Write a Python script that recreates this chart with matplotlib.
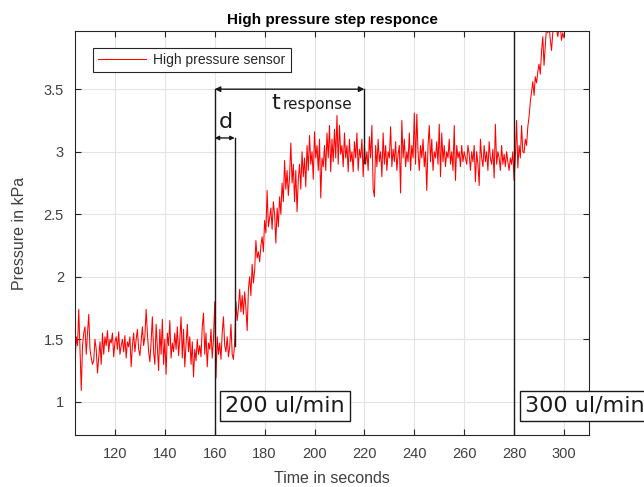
import numpy as np
import matplotlib
import matplotlib.pyplot as plt
from matplotlib.ticker import FormatStrFormatter
matplotlib.use('Agg')

# sampled sensor data, one value every 0.5 s starting at t0
t0 = 104.0
dt = 0.5
pressure = [
    1.30, 1.52, 1.45, 1.74, 1.40, 1.09, 1.45, 1.55, 1.60, 1.38,
    1.55, 1.70, 1.42, 1.35, 1.30, 1.33, 1.50, 1.42, 1.23, 1.35,
    1.48, 1.30, 1.55, 1.38, 1.52, 1.45, 1.57, 1.40, 1.50, 1.47,
    1.55, 1.36, 1.48, 1.52, 1.42, 1.56, 1.38, 1.45, 1.50, 1.40,
    1.53, 1.35, 1.48, 1.44, 1.52, 1.28, 1.45, 1.55, 1.40, 1.50,
    1.58, 1.42, 1.37, 1.49, 1.60, 1.45, 1.52, 1.74, 1.55, 1.40,
    1.32, 1.48, 1.68, 1.40, 1.30, 1.62, 1.44, 1.25, 1.58, 1.38,
    1.66, 1.30, 1.50, 1.22, 1.55, 1.45, 1.65, 1.35, 1.47, 1.40,
    1.55, 1.42, 1.60, 1.37, 1.50, 1.68, 1.35, 1.58, 1.28, 1.46,
    1.62, 1.40, 1.52, 1.30, 1.48, 1.20, 1.42, 1.33, 1.50, 1.38,
    1.45, 1.36, 1.60, 1.71, 1.38, 1.55, 1.28, 1.47, 1.42, 1.58,
    1.35, 1.50, 1.80, 1.19, 1.52, 1.38, 1.47, 1.34, 1.55, 1.68,
    1.45, 1.40, 1.52, 1.36, 1.44, 1.62, 1.38, 1.34, 1.48, 1.80,
    1.65, 1.75, 1.90, 1.72, 1.85, 1.70, 1.88, 1.75, 1.57, 1.90,
    2.00, 1.85, 2.10, 1.95, 2.05, 2.29, 2.15, 2.20, 2.12, 2.25,
    2.32, 2.20, 2.45, 2.35, 2.69, 2.40, 2.47, 2.55, 2.38, 2.60,
    2.50, 2.27, 2.55, 2.40, 2.64, 2.50, 2.75, 2.60, 2.93, 2.70,
    2.85, 2.65, 2.80, 3.07, 2.75, 2.90, 2.60, 2.85, 2.52, 2.78,
    2.90, 2.70, 3.00, 2.80, 2.95, 2.72, 3.05, 2.85, 3.13, 2.90,
    3.00, 2.78, 3.16, 2.95, 3.05, 2.85, 3.10, 2.63, 2.95, 2.88,
    3.05, 2.85, 3.15, 2.95, 3.21, 2.84, 3.10, 2.92, 3.18, 2.95,
    3.29, 2.90, 3.21, 2.98, 3.05, 2.88, 3.15, 2.95, 3.05, 2.84,
    3.10, 2.92, 3.00, 2.84, 3.08, 2.95, 3.15, 2.85, 3.02, 2.95,
    3.10, 2.80, 3.05, 2.90, 3.00, 2.85, 3.12, 2.95, 3.21, 2.70,
    2.64, 3.05, 2.88, 3.10, 2.92, 3.00, 2.80, 3.15, 2.90, 3.05,
    2.85, 3.00, 2.95, 3.20, 2.88, 3.02, 2.92, 3.08, 2.85, 2.98,
    3.05, 2.67, 3.25, 2.95, 3.10, 2.88, 3.00, 2.92, 3.15, 2.85,
    3.05, 2.95, 3.31, 2.90, 3.30, 3.00, 2.85, 3.05, 2.95, 3.10,
    2.88, 3.00, 2.69, 3.05, 3.21, 2.92, 3.10, 2.85, 3.00, 2.95,
    3.08, 2.90, 3.22, 2.80, 3.15, 2.92, 3.05, 2.88, 3.00, 2.95,
    3.10, 2.90, 3.00, 2.85, 3.21, 2.77, 3.05, 2.95, 3.00, 2.88,
    3.05, 2.92, 3.00, 2.95, 2.90, 3.05, 2.98, 2.85, 3.00, 2.92,
    3.05, 2.76, 3.00, 2.90, 2.73, 3.10, 2.95, 2.88, 3.05, 2.92,
    3.00, 2.85, 3.08, 2.95, 2.90, 3.02, 2.79, 3.22, 2.90, 3.00,
    2.95, 2.85, 3.05, 2.90, 2.98, 2.88, 3.00, 2.92, 2.85, 2.95,
    2.90, 3.00, 2.77, 2.95, 3.25, 2.87, 3.05, 2.95, 3.21, 3.00,
    2.99, 3.10, 3.05, 3.20, 3.28, 3.40, 3.48, 3.56, 3.45, 3.60,
    3.55, 3.64, 3.70, 3.62, 3.80, 3.92, 3.69, 3.85, 4.00, 3.95,
    4.02, 3.90, 3.81, 3.95, 4.05, 4.00, 3.98, 3.92, 3.99, 4.02,
    3.89, 3.95, 3.91,
]
time = t0 + dt * np.arange(len(pressure))

# markers on the time axis
t_step1 = 160
t_delay = 168
t_resp = 220
t_step2 = 280
y_resp = 3.5
y_delay = 3.11
y_delay_low = 1.45
y_resp_low = 2.91

xlim = (104, 310)
ylim = (0.735, 3.965)
xticks = [120, 140, 160, 180, 200, 220, 240, 260, 280, 300]
yticks = [1, 1.5, 2, 2.5, 3, 3.5]

ax_col = '#262626'
txt_col = '#404040'
plt.rcParams['font.family'] = ['Liberation Sans', 'DejaVu Sans']

fig = plt.figure(figsize=(6.44, 4.87), dpi=100)
ax = fig.add_axes([0.1165, 0.1068, 0.798, 0.8295])

ax.plot(time, pressure, color='#ff0000', linewidth=0.75,
        label='High pressure sensor')

ax.set_xlim(xlim)
ax.set_ylim(ylim)
ax.set_xticks(xticks)
ax.set_yticks(yticks)
ax.yaxis.set_major_formatter(FormatStrFormatter('%g'))
ax.grid(True, color='#e3e3e3', linewidth=0.8)
ax.set_axisbelow(True)
ax.tick_params(direction='in', length=4, width=0.8, top=True, right=True,
               labelsize=10.5, colors=ax_col, labelcolor=txt_col)
ax.tick_params(axis='x', pad=9)
ax.tick_params(axis='y', pad=8)
for s in ax.spines.values():
    s.set_color(ax_col)
    s.set_linewidth(0.8)

ax.set_title('High pressure step responce', fontsize=11, fontweight='bold',
             color='black', pad=5)
ax.set_xlabel('Time in seconds', fontsize=11.5, color=txt_col, labelpad=7)
ax.set_ylabel('Pressure in kPa', fontsize=11.5, color=txt_col, labelpad=12)

leg = ax.legend(loc='upper left', bbox_to_anchor=(0.035, 0.958), fontsize=10,
                fancybox=False, framealpha=1, edgecolor=ax_col,
                handlelength=3.5, handletextpad=0.5, borderpad=0.35,
                borderaxespad=0)
leg.get_frame().set_linewidth(0.8)
for t in leg.get_texts():
    t.set_color(ax_col)

# vertical marker lines
lc = '#1a1a1a'
ax.plot([t_step1, t_step1], [ylim[0], y_resp], color=lc, linewidth=1)
ax.plot([t_delay, t_delay], [y_delay_low, y_delay], color=lc, linewidth=1)
ax.plot([t_resp, t_resp], [y_resp_low, y_resp], color=lc, linewidth=1)
ax.plot([t_step2, t_step2], ylim, color=lc, linewidth=1)

# double headed arrows
ax.annotate('', xy=(t_step1, y_resp), xytext=(t_resp, y_resp),
            arrowprops=dict(arrowstyle='<|-|>', color=lc, lw=1,
                            mutation_scale=8, shrinkA=0, shrinkB=0))
ax.annotate('', xy=(t_step1, y_delay), xytext=(t_delay, y_delay),
            arrowprops=dict(arrowstyle='<|-|>', color=lc, lw=1,
                            mutation_scale=6, shrinkA=0, shrinkB=0))

ax.text(182.8, 3.345, 't', fontsize=16, family='DejaVu Sans', color=lc,
        ha='left', va='baseline')
ax.text(187.2, 3.345, 'response', fontsize=11, family='DejaVu Sans',
        color=lc, ha='left', va='baseline')
ax.text(161.5, 3.19, 'd', fontsize=16, family='DejaVu Sans', color=lc,
        ha='left', va='baseline')

box = dict(boxstyle='square,pad=0.22', facecolor='white', edgecolor=lc,
           linewidth=1)
ax.text(164.2, 0.968, '200 ul/min', fontsize=16, family='DejaVu Sans',
        color=lc, ha='left', va='center', bbox=box, clip_on=False)
ax.text(284.2, 0.968, '300 ul/min', fontsize=16, family='DejaVu Sans',
        color=lc, ha='left', va='center', bbox=box, clip_on=False)

plt.savefig('out.png', dpi=100)
